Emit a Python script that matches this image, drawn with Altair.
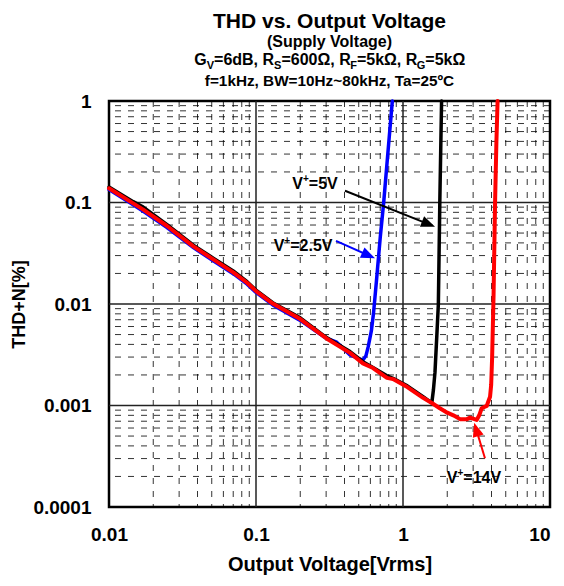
import math
import altair as alt
import pandas as pd

# ---------------- data ----------------
x_ticks = [0.01, 0.1, 1, 10]
y_ticks = [0.0001, 0.001, 0.01, 0.1, 1]
x_minor = [2e-2, 3e-2, 4e-2, 5e-2, 6e-2, 7e-2, 8e-2, 9e-2,
           0.2, 0.3, 0.4, 0.5, 0.6, 0.7, 0.8, 0.9,
           2, 3, 4, 5, 6, 7, 8, 9]
y_minor = [2e-4, 3e-4, 4e-4, 5e-4, 6e-4, 7e-4, 8e-4, 9e-4,
           2e-3, 3e-3, 4e-3, 5e-3, 6e-3, 7e-3, 8e-3, 9e-3,
           2e-2, 3e-2, 4e-2, 5e-2, 6e-2, 7e-2, 8e-2, 9e-2,
           0.2, 0.3, 0.4, 0.5, 0.6, 0.7, 0.8, 0.9]

red_x = [0.01, 0.0146, 0.0171, 0.0247, 0.0375, 0.0512, 0.070, 0.087, 0.1, 0.13,
         0.2, 0.3, 0.436, 0.534, 0.625, 0.778, 0.855, 1.07, 1.37, 1.6, 1.78, 2.0,
         2.2, 2.46, 2.7, 2.86, 3.17, 3.3, 3.43, 3.71, 3.91, 3.98, 4.04, 4.09, 4.13,
         4.23, 4.32, 4.4]
red_y = [0.138, 0.098, 0.085, 0.059, 0.037, 0.0275, 0.0205, 0.0162, 0.0134, 0.0101,
         0.0071, 0.0046, 0.0033, 0.0026, 0.00234, 0.00187, 0.00182, 0.00152, 0.00119,
         0.00104, 0.00094, 0.00085, 0.00080, 0.00073, 0.00073, 0.00076, 0.00072,
         0.00080, 0.00094, 0.00099, 0.00122, 0.0016, 0.003, 0.0065, 0.012, 0.1, 0.4, 1.0]

black_x = [0.01, 0.0146, 0.0171, 0.0247, 0.0375, 0.0512, 0.070, 0.087, 0.1, 0.13,
           0.2, 0.3, 0.436, 0.534, 0.625, 0.778, 0.855, 1.07, 1.37, 1.57, 1.61,
           1.65, 1.70, 1.74, 1.78, 1.83]
black_y = [0.142, 0.102, 0.090, 0.061, 0.038, 0.0283, 0.0212, 0.0166, 0.0137, 0.0103,
           0.0073, 0.0047, 0.0034, 0.0027, 0.00237, 0.00196, 0.00185, 0.00156, 0.00122,
           0.00106, 0.00142, 0.00212, 0.005, 0.01, 0.1, 1.0]

blue_x = [0.01, 0.0146, 0.0171, 0.0247, 0.0375, 0.0512, 0.070, 0.087, 0.1, 0.13,
          0.2, 0.3, 0.354, 0.436, 0.50, 0.534, 0.56, 0.58, 0.61, 0.63, 0.66, 0.70,
          0.739, 0.795, 0.846]
blue_y = [0.134, 0.095, 0.082, 0.057, 0.036, 0.0266, 0.0199, 0.0157, 0.0130, 0.0098,
          0.0069, 0.0046, 0.0042, 0.00315, 0.0029, 0.0028, 0.0031, 0.0038, 0.0055,
          0.0081, 0.017, 0.045, 0.1, 0.35, 1.0]

series_colors = ["#0000ff", "#000000", "#ff0000"]
# label parts: base letter, superscript, remainder
label_parts = [("V", "+", "=2.5V"), ("V", "+", "=5V"), ("V", "+", "=14V")]

# annotation: label position, arrow start, arrow tip (data units)
label_x = [0.209, 0.252, 3.04]
label_y = [0.0381, 0.1556, 0.000198]
arrow_start_x = [0.350, 0.403, 3.61]
arrow_start_y = [0.0418, 0.1306, 0.000302]
arrow_tip_x = [0.645, 1.651, 3.05]
arrow_tip_y = [0.0282, 0.0578, 0.000677]

title_text = "THD vs. Output Voltage"
sub1_text = "(Supply Voltage)"
sub2_pieces = [("G", False), ("V", True), ("=6dB, R", False), ("S", True),
               ("=600Ω, R", False), ("F", True), ("=5kΩ, R", False), ("G", True),
               ("=5kΩ", False)]
sub3_text = "f=1kHz, BW=10Hz~80kHz, Ta=25ºC"

x_title = "Output Voltage[Vrms]"
y_title = "THD+N[%]"

# ---------------- layout ----------------
W, H = 441, 406
FONT = "Liberation Sans"
PX_DEC_X = W / 3.0
PX_DEC_Y = H / 4.0

CW = {"G": 778, "V": 667, "=": 584, "6": 556, "d": 611, "B": 722, ",": 278, " ": 278,
      "R": 722, "S": 667, "0": 556, "Ω": 768, "F": 611, "k": 556, "5": 556,
      "+": 584, "1": 556, "2": 556, "4": 556, ".": 278}


def tw(s, size):
    return sum(CW[c] for c in s) / 1000 * size


xs = alt.Scale(type="log", domain=[0.01, 10], nice=False)
ys = alt.Scale(type="log", domain=[0.0001, 1], nice=False)
xaxis = alt.Axis(values=x_ticks, format="~g", title=x_title, grid=False, ticks=False,
                 domain=False, labelPadding=18, titlePadding=10, labelFontSize=19,
                 titleFontSize=20, labelFlush=False, labelOverlap=False,
                 labelAlign={"condition": {"test": "datum.value >= 10", "value": "right"},
                             "value": "center"})
yaxis = alt.Axis(values=y_ticks, format="~g", title=y_title, grid=False, ticks=False,
                 domain=False, labelPadding=18, titlePadding=4, labelFontSize=19,
                 titleFontSize=18, labelFlush=False, labelOverlap=False)


def X(f):
    return alt.X(f, type="quantitative", scale=xs, axis=xaxis)


def Y(f):
    return alt.Y(f, type="quantitative", scale=ys, axis=yaxis)


minor_v = alt.Chart(pd.DataFrame({"v": x_minor})).mark_rule(
    color="black", strokeWidth=1, strokeDash=[6, 7], opacity=0.8).encode(x=X("v"))
minor_h = alt.Chart(pd.DataFrame({"v": y_minor})).mark_rule(
    color="black", strokeWidth=1, strokeDash=[6, 7], opacity=0.8).encode(y=Y("v"))
major_v = alt.Chart(pd.DataFrame({"v": x_ticks[1:-1]})).mark_rule(
    color="#222", strokeWidth=1.5).encode(x=X("v"))
major_h = alt.Chart(pd.DataFrame({"v": y_ticks[1:-1]})).mark_rule(
    color="#222", strokeWidth=1.5).encode(y=Y("v"))

curves = []
for xs_, ys_, col, w in [(blue_x, blue_y, series_colors[0], 3.5),
                         (black_x, black_y, series_colors[1], 3.5),
                         (red_x, red_y, series_colors[2], 4)]:
    df = pd.DataFrame({"x": xs_, "y": ys_, "i": list(range(len(xs_)))})
    curves.append(alt.Chart(df).mark_line(color=col, strokeWidth=w,
                                          strokeJoin="round", strokeCap="round")
                  .encode(x=X("x"), y=Y("y"), order=alt.Order("i:Q")))

# arrows
HEAD = 7.0
rows, heads = [], []
for k in range(3):
    sx, sy = math.log10(arrow_start_x[k]), math.log10(arrow_start_y[k])
    tx, ty = math.log10(arrow_tip_x[k]), math.log10(arrow_tip_y[k])
    dx = (tx - sx) * PX_DEC_X
    dy = -(ty - sy) * PX_DEC_Y
    L = math.hypot(dx, dy)
    ux, uy = dx / L, dy / L
    cx = 10 ** (tx - HEAD * ux / PX_DEC_X)
    cy = 10 ** (ty + HEAD * uy / PX_DEC_Y)
    ang = math.degrees(math.atan2(dx, -dy)) % 360
    rows.append({"x": arrow_start_x[k], "y": arrow_start_y[k], "a": k, "i": 0, "c": series_colors[k]})
    rows.append({"x": cx, "y": cy, "a": k, "i": 1, "c": series_colors[k]})
    heads.append({"x": cx, "y": cy, "ang": ang, "c": series_colors[k]})

arrow_lines = alt.Chart(pd.DataFrame(rows)).mark_line(strokeWidth=2).encode(
    x=X("x"), y=Y("y"), detail="a:N", order=alt.Order("i:Q"),
    color=alt.Color("c:N", scale=None))
arrow_heads = alt.Chart(pd.DataFrame(heads)).mark_point(
    shape="M0,-1L0.8,1L-0.8,1Z", size=196, filled=True, opacity=1, strokeWidth=0).encode(
    x=X("x"), y=Y("y"), angle=alt.Angle("ang:Q", scale=None),
    color=alt.Color("c:N", scale=None))

# series labels built from pieces (superscript plus)
LS, SS = 16, 10
label_layers = []
for k in range(3):
    base, sup, rest = label_parts[k]
    total = tw(base, LS) + tw(sup, SS) + tw(rest, LS)
    off = -total / 2
    d1 = pd.DataFrame({"x": [label_x[k]], "y": [label_y[k]]})
    for s, size, rise in [(base, LS, 0), (sup, SS, 7), (rest, LS, 0)]:
        label_layers.append(alt.Chart(d1).mark_text(
            text=s, font=FONT, fontWeight="bold", fontSize=size, color="black",
            align="left", baseline="alphabetic", dx=off, dy=6 - rise).encode(
            x=X("x"), y=Y("y")))
        off += tw(s, size)

# titles
one = pd.DataFrame({"k": [0]})


def txt(t, x, y, size, align="center"):
    return alt.Chart(one).mark_text(text=t, font=FONT, fontWeight="bold", fontSize=size,
                                    color="black", align=align, baseline="alphabetic").encode(
        x=alt.value(x), y=alt.value(y))


MAIN, SUB = 16, 11
widths = [tw(s, SUB if sub else MAIN) for s, sub in sub2_pieces]
cur = W / 2 - sum(widths) / 2
title_layers = [txt(title_text, W / 2, -73, 21), txt(sub1_text, W / 2, -54, 16)]
for (s, sub), w in zip(sub2_pieces, widths):
    title_layers.append(txt(s, cur, -36 + (4 if sub else 0), SUB if sub else MAIN, "left"))
    cur += w
title_layers.append(txt(sub3_text, W / 2, -15, 15.3))

chart = alt.layer(minor_v, minor_h, major_v, major_h, *curves, arrow_lines, arrow_heads,
                  *label_layers, *title_layers).properties(
    width=W, height=H,
    padding={"left": 101, "top": 93, "right": 6, "bottom": 70},
    autosize=alt.AutoSizeParams(type="none"),
).configure_view(stroke="black", strokeWidth=2.5).configure_axis(
    labelFont=FONT, titleFont=FONT, labelFontWeight="bold", titleFontWeight="bold",
    labelColor="black", titleColor="black")

chart.save("out.html", embed_options={"renderer": "svg", "actions": False})
